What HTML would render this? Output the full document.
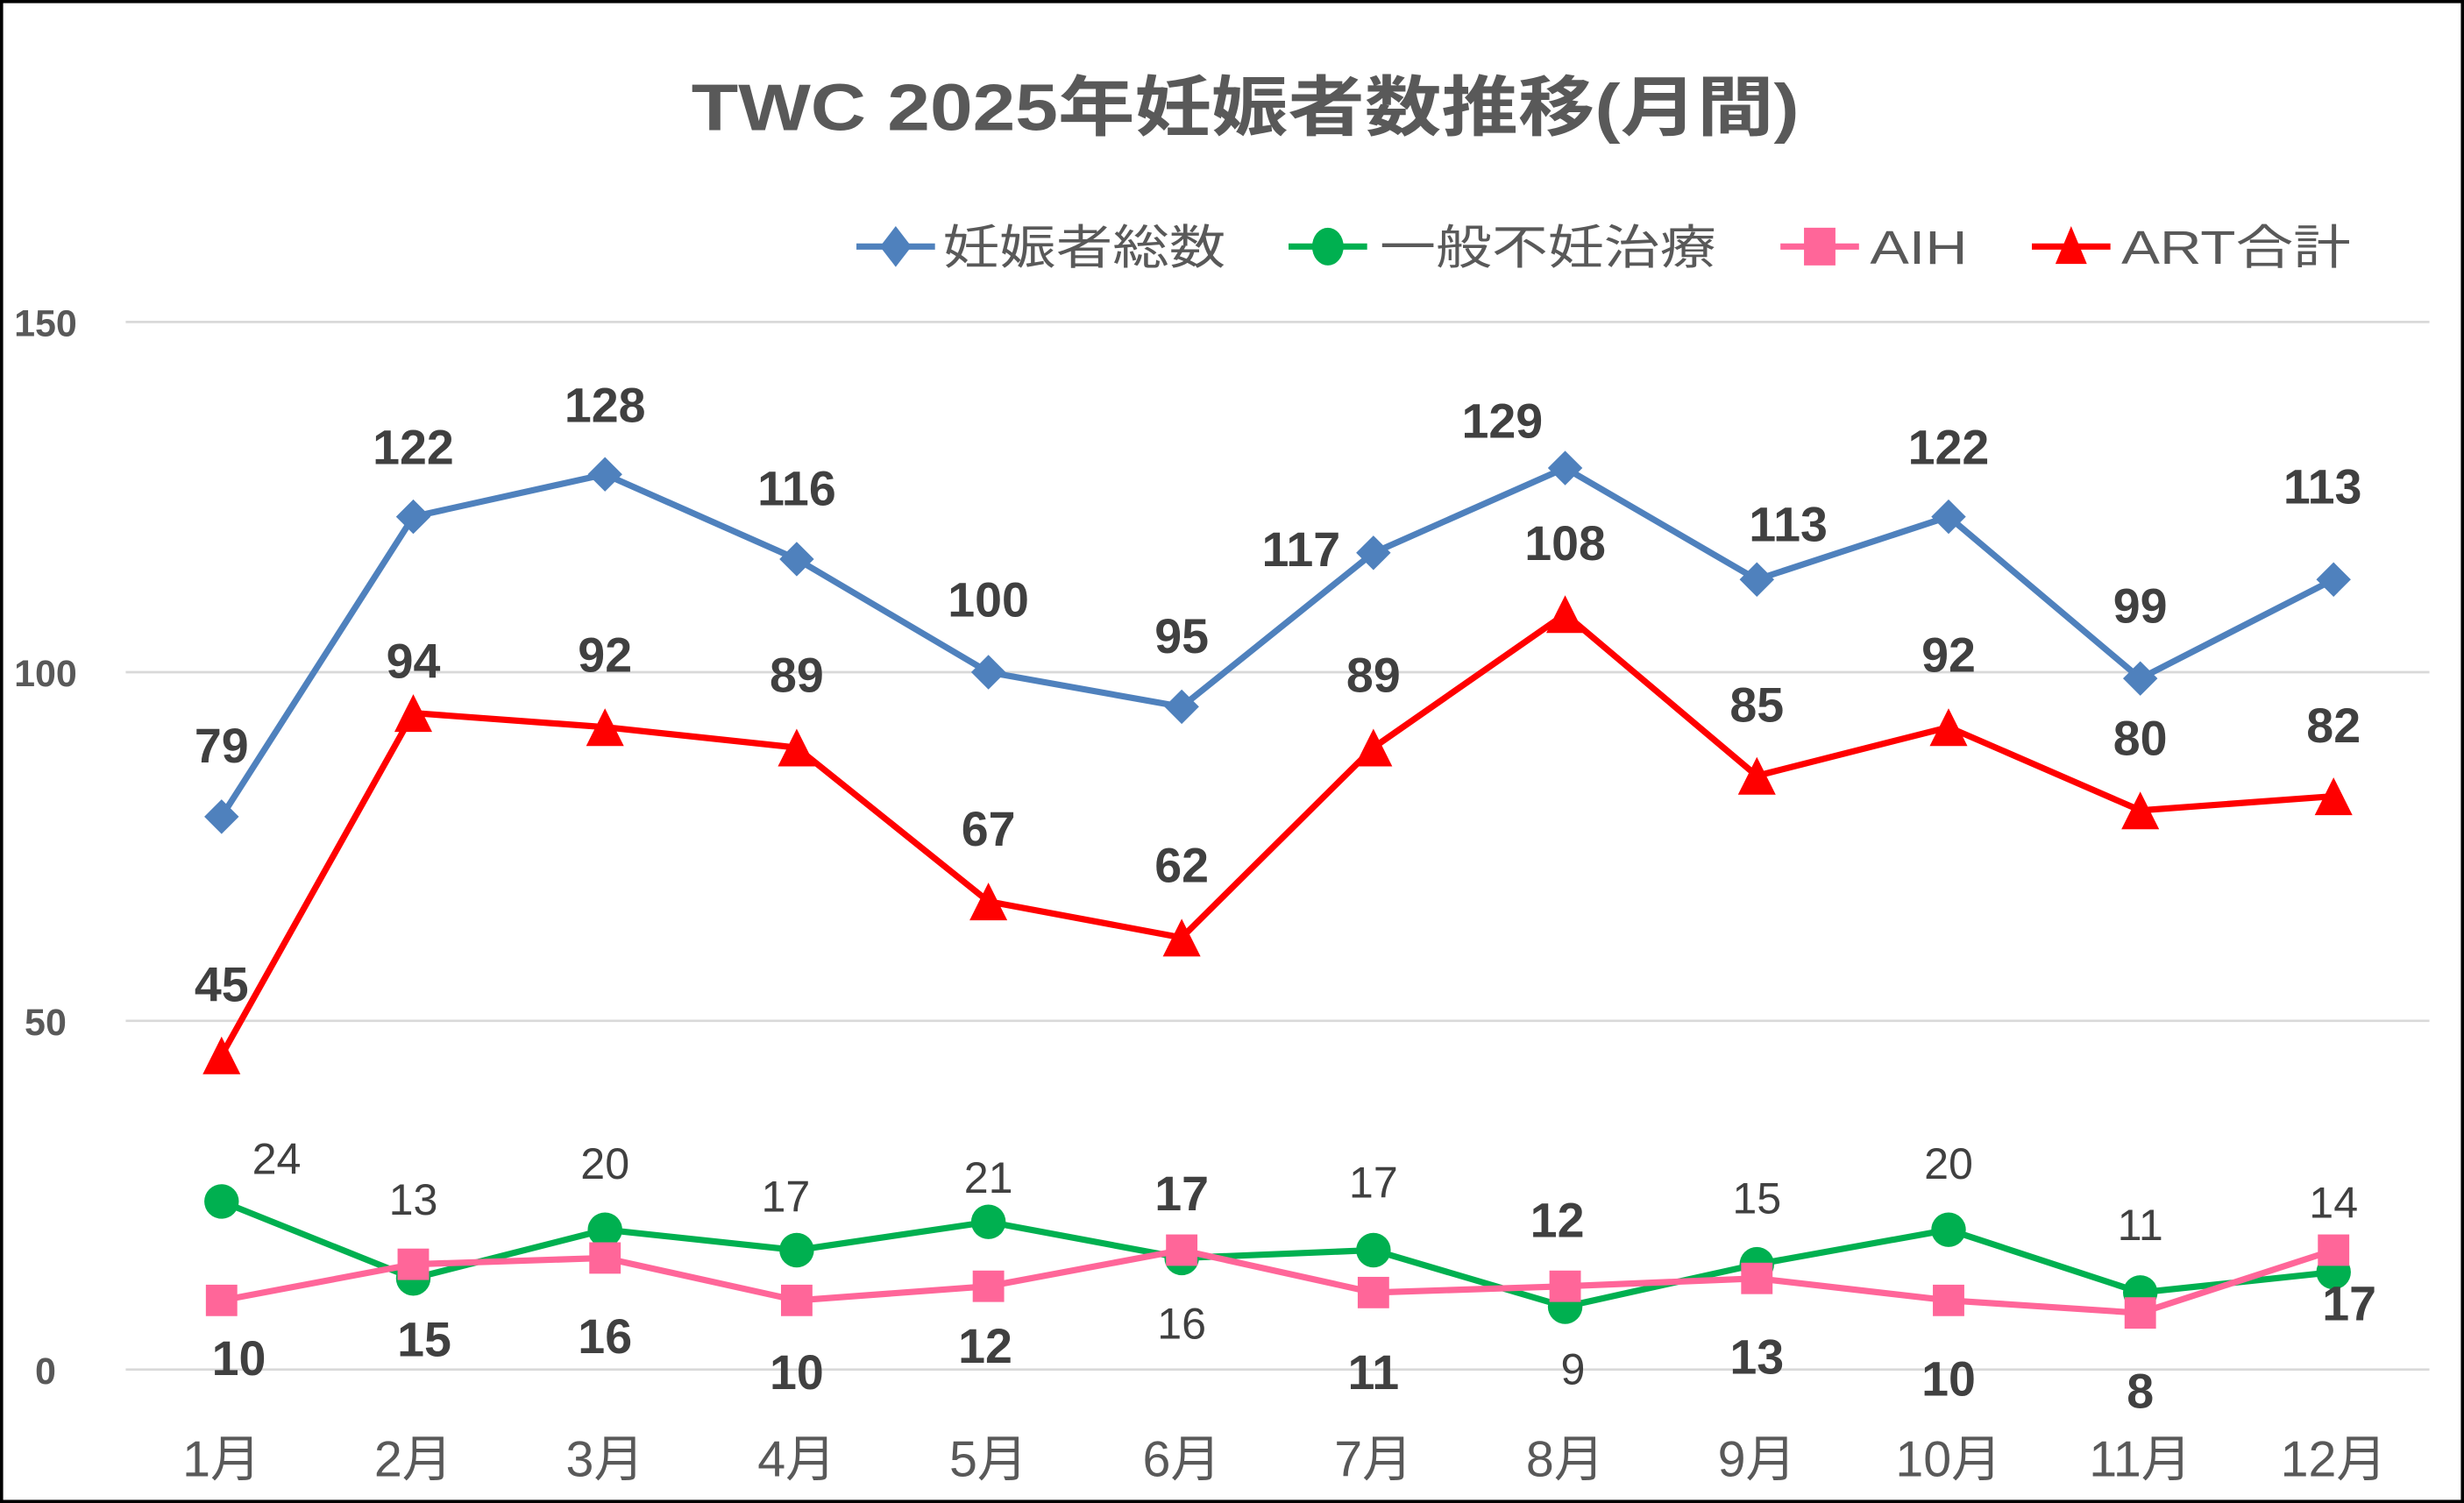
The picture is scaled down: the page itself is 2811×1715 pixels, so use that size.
<!DOCTYPE html>
<html><head><meta charset="utf-8"><style>
html,body{margin:0;padding:0;background:#fff}
svg{display:block}
text{font-family:"Liberation Sans","Noto Sans CJK JP",sans-serif}
</style></head><body>
<svg width="2811" height="1715" viewBox="0 0 1568 957" preserveAspectRatio="none" xmlns="http://www.w3.org/2000/svg">
<rect x="1" y="1" width="1566" height="955" fill="#fff" stroke="#000" stroke-width="2"/>
<text x="440" y="83" textLength="705" lengthAdjust="spacingAndGlyphs" font-size="42" font-weight="bold" fill="#595959">TWC 2025年妊娠者数推移(月間)</text>
<g stroke="#d9d9d9" stroke-width="1.5">
<line x1="80" x2="1546" y1="205" y2="205"/><line x1="80" x2="1546" y1="428" y2="428"/>
<line x1="80" x2="1546" y1="650" y2="650"/><line x1="80" x2="1546" y1="872" y2="872"/>
</g>
<g font-size="24" font-weight="bold" fill="#595959" text-anchor="middle">
<text x="29" y="214">150</text><text x="29" y="437">100</text><text x="29" y="659">50</text><text x="29" y="881">0</text>
</g>
<g font-size="32" fill="#595959" text-anchor="middle">
<text x="141" y="940">1月</text><text x="263" y="940">2月</text><text x="385" y="940">3月</text><text x="507" y="940">4月</text>
<text x="629" y="940">5月</text><text x="752" y="940">6月</text><text x="874" y="940">7月</text><text x="996" y="940">8月</text>
<text x="1118" y="940">9月</text><text x="1240" y="940">10月</text><text x="1362" y="940">11月</text><text x="1485" y="940">12月</text>
</g>
<!-- legend -->
<g font-size="30" fill="#595959">
<line x1="545" x2="595" y1="157" y2="157" stroke="#4f81bd" stroke-width="4"/><polygon points="570,144 580,157 570,170 560,157" fill="#4f81bd"/>
<text x="600" y="168" textLength="180" lengthAdjust="spacingAndGlyphs">妊娠者総数</text>
<line x1="820" x2="870" y1="157" y2="157" stroke="#00b050" stroke-width="4"/><ellipse cx="845" cy="157" rx="10" ry="12" fill="#00b050"/>
<text x="878" y="168" textLength="214" lengthAdjust="spacingAndGlyphs">一般不妊治療</text>
<line x1="1133" x2="1183" y1="157" y2="157" stroke="#ff6699" stroke-width="4"/><rect x="1148" y="145" width="20" height="24" fill="#ff6699"/>
<text x="1190" y="168" textLength="62" lengthAdjust="spacingAndGlyphs">AIH</text>
<line x1="1293" x2="1343" y1="157" y2="157" stroke="#ff0000" stroke-width="4"/><polygon points="1318,144 1328,168 1308,168" fill="#ff0000"/>
<text x="1350" y="168" textLength="146" lengthAdjust="spacingAndGlyphs">ART合計</text>
</g>
<!-- series -->
<polyline fill="none" stroke="#00b050" stroke-width="4" points="141,765 263,814 385,783 507,796 629,778 752,801 874,796 996,832 1118,805 1240,783 1362,823 1485,810"/>
<g fill="#00b050">
<circle cx="141" cy="765" r="11"/><circle cx="263" cy="814" r="11"/><circle cx="385" cy="783" r="11"/><circle cx="507" cy="796" r="11"/><circle cx="629" cy="778" r="11"/><circle cx="752" cy="801" r="11"/><circle cx="874" cy="796" r="11"/><circle cx="996" cy="832" r="11"/><circle cx="1118" cy="805" r="11"/><circle cx="1240" cy="783" r="11"/><circle cx="1362" cy="823" r="11"/><circle cx="1485" cy="810" r="11"/>
</g>
<polyline fill="none" stroke="#ff6699" stroke-width="4" points="141,828 263,805 385,801 507,828 629,819 752,796 874,823 996,819 1118,814 1240,828 1362,836 1485,796"/>
<g fill="#ff6699">
<rect x="131" y="818" width="20" height="20"/><rect x="253" y="795" width="20" height="20"/><rect x="375" y="791" width="20" height="20"/><rect x="497" y="818" width="20" height="20"/><rect x="619" y="809" width="20" height="20"/><rect x="742" y="786" width="20" height="20"/><rect x="864" y="813" width="20" height="20"/><rect x="986" y="809" width="20" height="20"/><rect x="1108" y="804" width="20" height="20"/><rect x="1230" y="818" width="20" height="20"/><rect x="1352" y="826" width="20" height="20"/><rect x="1475" y="786" width="20" height="20"/>
</g>
<polyline fill="none" stroke="#ff0000" stroke-width="4" points="141,672 263,454 385,463 507,476 629,574 752,597 874,476 996,391 1118,494 1240,463 1362,516 1485,507"/>
<g fill="#ff0000">
<polygon points="141,660 153,684 129,684"/><polygon points="263,442 275,466 251,466"/><polygon points="385,451 397,475 373,475"/><polygon points="507,464 519,488 495,488"/><polygon points="629,562 641,586 617,586"/><polygon points="752,585 764,609 740,609"/><polygon points="874,464 886,488 862,488"/><polygon points="996,379 1008,403 984,403"/><polygon points="1118,482 1130,506 1106,506"/><polygon points="1240,451 1252,475 1228,475"/><polygon points="1362,504 1374,528 1350,528"/><polygon points="1485,495 1497,519 1473,519"/>
</g>
<polyline fill="none" stroke="#4f81bd" stroke-width="4" points="141,520 263,329 385,302 507,356 629,428 752,450 874,352 996,298 1118,369 1240,329 1362,432 1485,369"/>
<g fill="#4f81bd">
<polygon points="141,509 152,520 141,531 130,520"/><polygon points="263,318 274,329 263,340 252,329"/><polygon points="385,291 396,302 385,313 374,302"/><polygon points="507,345 518,356 507,367 496,356"/><polygon points="629,417 640,428 629,439 618,428"/><polygon points="752,439 763,450 752,461 741,450"/><polygon points="874,341 885,352 874,363 863,352"/><polygon points="996,287 1007,298 996,309 985,298"/><polygon points="1118,358 1129,369 1118,380 1107,369"/><polygon points="1240,318 1251,329 1240,340 1229,329"/><polygon points="1362,421 1373,432 1362,443 1351,432"/><polygon points="1485,358 1496,369 1485,380 1474,369"/>
</g>
<!-- labels -->
<g font-size="31" font-weight="bold" fill="#404040" text-anchor="middle" dominant-baseline="central">
<text x="141" y="475">79</text><text x="263" y="285">122</text><text x="385" y="258">128</text><text x="507" y="311">116</text><text x="629" y="382">100</text><text x="752" y="405">95</text><text x="828" y="350">117</text><text x="956" y="268">129</text><text x="1138" y="334">113</text><text x="1240" y="285">122</text><text x="1362" y="386">99</text><text x="1478" y="310">113</text>
<text x="141" y="627">45</text><text x="263" y="421">94</text><text x="385" y="417">92</text><text x="507" y="430">89</text><text x="629" y="528">67</text><text x="752" y="551">62</text><text x="874" y="430">89</text><text x="996" y="346">108</text><text x="1118" y="449">85</text><text x="1240" y="417">92</text><text x="1362" y="470">80</text><text x="1485" y="462">82</text>
<text x="152" y="865">10</text><text x="270" y="853">15</text><text x="385" y="851">16</text><text x="507" y="874">10</text><text x="627" y="857">12</text><text x="752" y="760">17</text><text x="874" y="874">11</text><text x="991" y="777">12</text><text x="1118" y="864">13</text><text x="1240" y="878">10</text><text x="1362" y="886">8</text><text x="1495" y="830">17</text>
</g>
<g font-size="28" fill="#404040" text-anchor="middle" dominant-baseline="central">
<text x="176" y="738">24</text><text x="263" y="764">13</text><text x="385" y="741">20</text><text x="500" y="762">17</text><text x="629" y="750">21</text><text x="752" y="843">16</text><text x="874" y="753">17</text><text x="1001" y="872">9</text><text x="1118" y="763">15</text><text x="1240" y="741">20</text><text x="1362" y="780">11</text><text x="1485" y="766">14</text>
</g>
</svg>
</body></html>
